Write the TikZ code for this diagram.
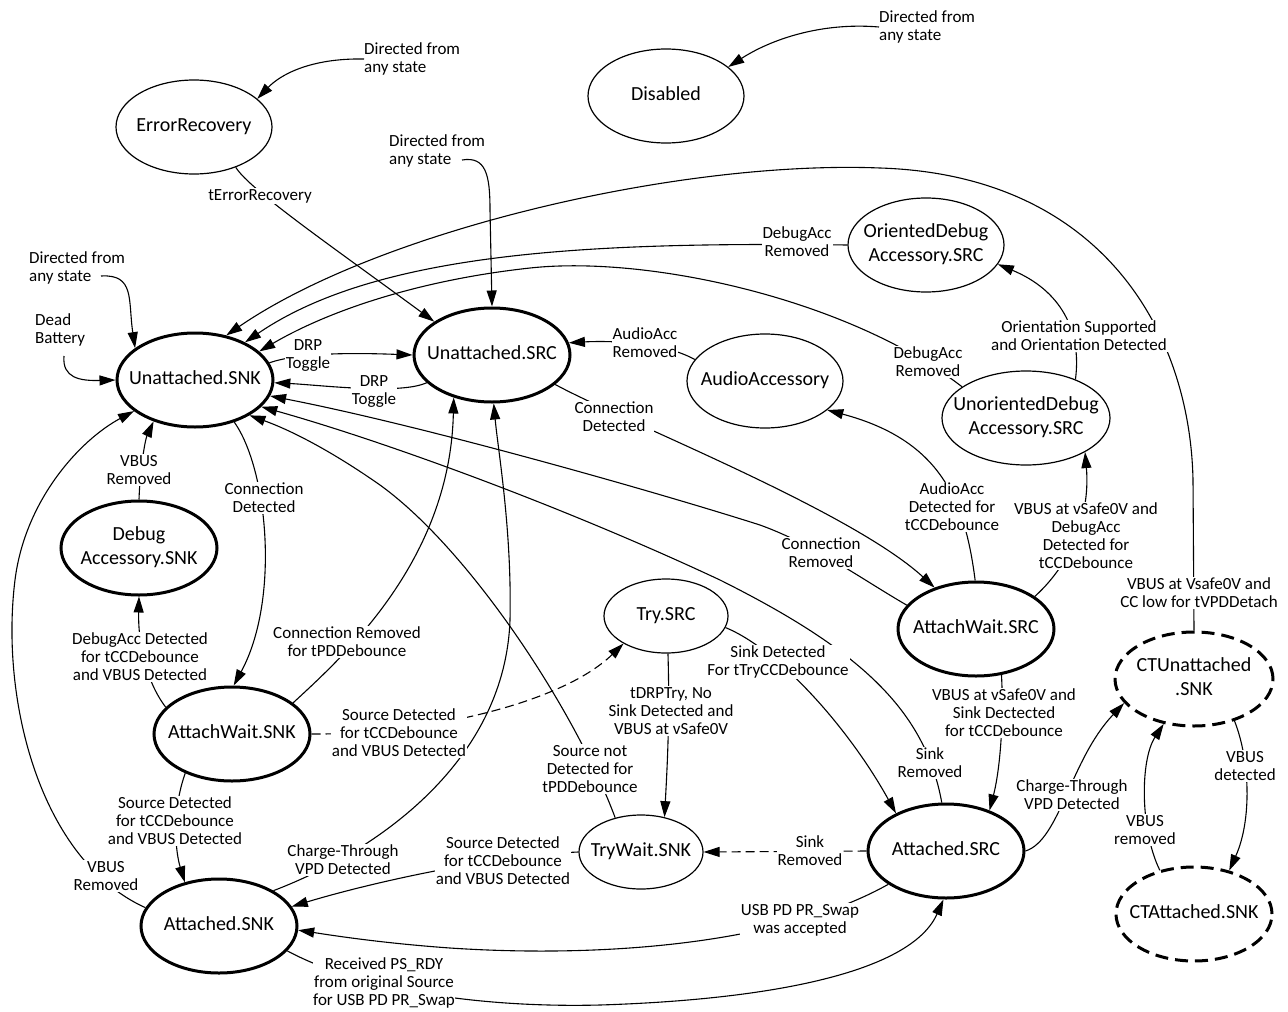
\documentclass[tikz,border=0pt]{standalone}
\usepackage{fontspec}
\setmainfont{Carlito}
\usetikzlibrary{arrows.meta,shapes.geometric}
\newcommand{\nt}[1]{\makebox[0pt]{\begin{tabular}{@{}c@{}}#1\end{tabular}}}
\newcommand{\labfont}{\fontsize{17}{18}\selectfont}
\newcommand{\stfont}{\fontsize{20}{24}\selectfont}
\tikzset{
  st/.style={ellipse, draw, line width=1.2pt, minimum width=156pt, minimum height=94pt, inner sep=0pt, font=\stfont},
  sts/.style={st, minimum width=124pt, minimum height=74pt},
  stb/.style={st, line width=3pt},
  std/.style={stb, dash pattern=on 13pt off 7pt},
  lab/.style={fill=white, inner sep=1pt, align=center, font=\labfont},
  txt/.style={inner sep=0pt, align=left, font=\labfont},
  edge/.style={line width=1.1pt, -{Triangle[length=16pt,width=10pt]}},
  dedge/.style={edge, dash pattern=on 9pt off 5pt},
}
\begin{document}
\begin{tikzpicture}[x=1pt,y=-1pt]
\fill[white] (0,0) rectangle (1288,1012);
\useasboundingbox (0,0) rectangle (1288,1012);

% states
\node[st]  (er)    at (194,127)  {\nt{ErrorRecovery}};
\node[st]  (dis)   at (666,96)   {\nt{Disabled}};
\node[stb] (usnk)  at (195,380)  {\nt{Unattached.SNK}};
\node[stb] (usrc)  at (492,355)  {\nt{Unattached.SRC}};
\node[st]  (audio) at (765,381)  {\nt{AudioAccessory}};
\node[st]  (odbg)  at (926,245)  {\nt{OrientedDebug\\Accessory.SRC}};
\node[st, minimum width=168pt] (udbg) at (1026,418) {\nt{UnorientedDebug\\Accessory.SRC}};
\node[stb] (dsnk)  at (139,548)  {\nt{Debug\\Accessory.SNK}};
\node[stb] (awsnk) at (232,734)  {\nt{AttachWait.SNK}};
\node[stb] (asnk)  at (219,926)  {\nt{Attached.SNK}};
\node[sts] (trysrc) at (666,616) {\nt{Try.SRC}};
\node[sts] (twsnk) at (641,852)  {\nt{TryWait.SNK}};
\node[stb] (awsrc) at (976,629)  {\nt{AttachWait.SRC}};
\node[stb] (asrc)  at (946,851)  {\nt{Attached.SRC}};
\node[std, minimum width=158pt] (ctu) at (1194,679) {\nt{CTUnattached\\.SNK}};
\node[std] (cta)   at (1194,914) {\nt{CTAttached.SNK}};

% free texts
\node[txt, anchor=west] (tA) at (364,59)  {Directed from\\any state};
\node[txt, anchor=west] (tB) at (879,27)  {Directed from\\any state};
\node[txt, anchor=west] (tC) at (389,151) {Directed from\\any state};
\node[txt, anchor=west] (tD) at (29,268)  {Directed from\\any state};
\node[txt, anchor=west] (tE) at (35,330)  {Dead\\Battery};
\coordinate (cC) at (462,160);
\coordinate (cD) at (101,276);
\coordinate (cE) at (64,356);

% edges
\draw[edge] (tA.west) .. controls (310,58) and (280,75) .. (er.24);
\draw[edge] (tB.west) .. controls (820,22) and (770,40) .. (dis.25);
\draw[edge] (cC) .. controls (486,156) and (490,175) .. (490,210) -- (usrc.north);
\draw[edge] (cD) .. controls (135,274) and (128,300) .. (usnk.152);
\draw[edge] (cE) .. controls (62,378) and (80,381) .. (usnk.180);
\draw[edge] (er.-44) .. controls (250,190) and (330,245) .. (usrc.150);
% long arcs into Unattached.SNK
\draw[edge] (ctu.north) -- (1193,480) .. controls (1190,330) and (1100,175) .. (880,168) .. controls (680,160) and (380,230) .. (usnk.55);
\draw[edge] (odbg.west) .. controls (600,242) and (380,250) .. (usnk.37);
\draw[edge] (udbg.154) .. controls (850,300) and (650,255) .. (530,268) .. controls (420,280) and (330,310) .. (usnk.24);
% DRP toggle
\draw[edge] (usnk.13) .. controls (300,352) and (360,353) .. (usrc.180);
\draw[edge] (usrc.203) .. controls (400,395) and (320,385) .. (usnk.-2);
% audio
\draw[edge] (audio.163) .. controls (660,340) and (600,341) .. (usrc.9);
\draw[edge] (usrc.-25) .. controls (620,420) and (850,510) .. (awsrc.135);
\draw[edge] (usnk.-47) .. controls (268,470) and (280,600) .. (awsnk.88);
\draw[edge] (dsnk.north) .. controls (140,470) and (145,440) .. (usnk.225);
\draw[edge] (awsnk.158) .. controls (145,680) and (138,640) .. (dsnk.south);
\draw[edge] (awsnk.27) .. controls (345,655) and (450,560) .. (usrc.228);
\draw[dedge] (awsnk.east) .. controls (420,735) and (560,705) .. (trysrc.213);
\draw[edge] (awsnk.220) .. controls (172,810) and (175,850) .. (asnk.128);
\draw[edge] (asnk.166) .. controls (40,860) and (0,700) .. (15,580) .. controls (25,500) and (80,440) .. (usnk.207);
\draw[edge] (asnk.33) .. controls (380,850) and (505,760) .. (510,620) .. controls (512,530) and (498,450) .. (usrc.-88);
\draw[edge] (twsnk.west) .. controls (500,855) and (380,880) .. (asnk.15);
\draw[edge] (trysrc.-87) .. controls (670,720) and (667,770) .. (twsnk.56);
\draw[edge] (trysrc.-11) .. controls (780,650) and (850,730) .. (asrc.143);
\draw[edge] (awsrc.-61) .. controls (1004,720) and (1000,770) .. (asrc.43);
\draw[dedge] (asrc.west) -- (twsnk.east);
\draw[edge] (asrc.east) .. controls (1060,840) and (1070,760) .. (ctu.199);
\draw[edge] (ctu.-46) .. controls (1250,760) and (1252,820) .. (cta.51);
\draw[edge] (cta.128) .. controls (1140,830) and (1140,760) .. (ctu.236);
\draw[edge] (asrc.210) .. controls (780,945) and (600,958) .. (450,948) .. controls (380,943) and (330,935) .. (asnk.-3);
\draw[edge] (asnk.-20) .. controls (360,990) and (480,1008) .. (600,1005) .. controls (760,1000) and (910,975) .. (asrc.-93);
\draw[edge] (twsnk.127) .. controls (575,710) and (470,550) .. (380,485) .. controls (330,450) and (290,430) .. (usnk.-33);
\draw[edge] (asrc.95) .. controls (925,710) and (860,650) .. (720,580) .. controls (560,505) and (380,440) .. (usnk.-22);
\draw[edge] (awsrc.161) .. controls (860,578) and (815,545) .. (760,525) .. controls (650,490) and (420,425) .. (usnk.-12);
\draw[edge] (awsrc.91) .. controls (965,500) and (940,440) .. (audio.-25);
\draw[edge] (awsrc.29) .. controls (1075,560) and (1090,510) .. (udbg.-30);
\draw[edge] (udbg.38) .. controls (1082,330) and (1060,290) .. (odbg.-15);

% labels
\node[lab] (lF)  at (260,196) {tErrorRecovery};
\node[lab] (lG1) at (1199,593) {VBUS at Vsafe0V and\\CC low for tVPDDetach};
\node[lab] (lG2) at (797,242) {DebugAcc\\Removed};
\node[lab] (lG3) at (928,362) {DebugAcc\\Removed};
\node[lab] (lH1) at (308,356) {DRP\\Toggle};
\node[lab] (lH2) at (374,392) {DRP\\Toggle};
\node[lab] (lI)  at (645,343) {AudioAcc\\Removed};
\node[lab] (lJ)  at (614,417) {Connection\\Detected};
\node[lab] (lK)  at (264,498) {Connection\\Detected};
\node[lab] (lL)  at (139,470) {VBUS\\Removed};
\node[lab] (lM)  at (140,657) {DebugAcc Detected\\for tCCDebounce\\and VBUS Detected};
\node[lab] (lN)  at (347,642) {Connection Removed\\for tPDDebounce};
\node[lab] (lO)  at (399,733) {Source Detected\\for tCCDebounce\\and VBUS Detected};
\node[lab] (lP)  at (175,821) {Source Detected\\for tCCDebounce\\and VBUS Detected};
\node[lab] (lQ)  at (106,876) {VBUS\\Removed};
\node[lab] (lR)  at (343,860) {Charge-Through\\VPD Detected};
\node[lab] (lS)  at (503,861) {Source Detected\\for tCCDebounce\\and VBUS Detected};
\node[lab] (lT)  at (671,711) {tDRPTry, No\\Sink Detected and\\VBUS at vSafe0V};
\node[lab] (lU)  at (778,662) {Sink Detected\\For tTryCCDebounce};
\node[lab] (lV)  at (1004,713) {VBUS at vSafe0V and\\Sink Dectected\\for tCCDebounce};
\node[lab] (lW)  at (810,851) {Sink\\Removed};
\node[lab] (lX)  at (1072,795) {Charge-Through\\VPD Detected};
\node[lab] (lY)  at (1245,766) {VBUS\\detected};
\node[lab] (lZ)  at (1145,830) {VBUS\\removed};
\node[lab] (lAA) at (800,920) {USB PD PR\_Swap\\was accepted};
\node[lab, inner sep=0.5pt] (lBB) at (384,983) {Received PS\_RDY\\from original Source\\for USB PD PR\_Swap};
\node[lab] (lSR) at (930,763) {Sink\\Removed};
\node[lab] (lCR) at (821,553) {Connection\\Removed};
\node[lab] (lSN) at (590,769) {Source not\\Detected for\\tPDDebounce};
\node[lab] (lCC) at (952,507) {AudioAcc\\Detected for\\tCCDebounce};
\node[lab] (lDD) at (1086,536) {VBUS at vSafe0V and\\DebugAcc\\Detected for\\tCCDebounce};
\node[lab] (lEE) at (1079,336) {Orientation Supported\\and Orientation Detected};
\end{tikzpicture}
\end{document}
